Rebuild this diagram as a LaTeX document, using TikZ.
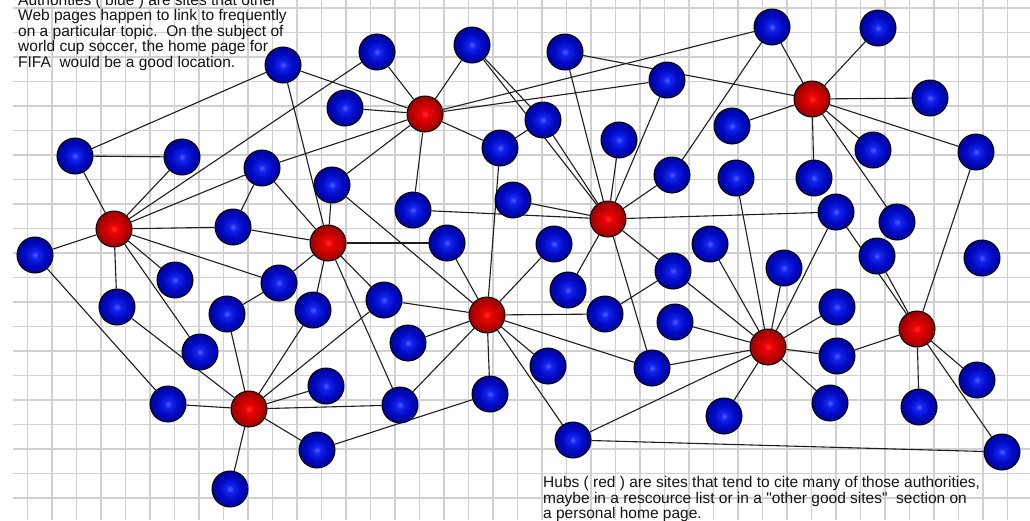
\documentclass[tikz,border=0pt]{standalone}
\usepackage{fontspec}
\newfontfamily\lbl{Liberation Sans}
\definecolor{bcen}{RGB}{80,100,255}
\definecolor{bmid}{RGB}{20,35,240}
\definecolor{bmid2}{RGB}{0,10,195}
\definecolor{bdark}{RGB}{0,0,130}
\definecolor{bdark2}{RGB}{0,0,80}
\definecolor{bedge}{RGB}{0,0,40}
\definecolor{rcen}{RGB}{255,50,50}
\definecolor{rmid}{RGB}{240,5,5}
\definecolor{rmid2}{RGB}{195,0,0}
\definecolor{rdark}{RGB}{130,0,0}
\definecolor{rdark2}{RGB}{80,0,0}
\definecolor{redge}{RGB}{40,0,0}
\definecolor{gridc}{RGB}{208,208,208}
\definecolor{edgec}{RGB}{30,30,30}
\definecolor{txtc}{RGB}{20,20,20}
\pgfdeclareradialshading{bluesph}{\pgfpoint{0bp}{0bp}}{color(0bp)=(bcen); color(5bp)=(bmid); color(15bp)=(bmid2); color(30bp)=(bdark); color(42bp)=(bdark2); color(50bp)=(bedge)}
\pgfdeclareradialshading{redsph}{\pgfpoint{0bp}{0bp}}{color(0bp)=(rcen); color(5bp)=(rmid); color(15bp)=(rmid2); color(30bp)=(rdark); color(42bp)=(rdark2); color(50bp)=(redge)}
\pgfdeclarelayer{gridlayer}
\pgfdeclarelayer{edgelayer}
\pgfsetlayers{gridlayer,edgelayer,main}
\begin{document}
\begin{tikzpicture}[x=1pt,y=-1pt,
  ball/.style={circle,minimum size=36pt,inner sep=0pt,draw=black,line width=1pt,shade},
  auth/.style={ball,shading=bluesph},
  hub/.style={ball,shading=redsph},
  link/.style={draw=edgec,line width=1.1pt},
  gridline/.style={draw=gridc,line width=1.4pt},
  txt/.style={anchor=base west,inner sep=0pt,text=txtc,font=\lbl\fontsize{15.5}{15.5}\selectfont}]
\useasboundingbox (0,0) rectangle (1030,520);
\begin{pgfonlayer}{gridlayer}
\fill[white] (0,0) rectangle (1030,520);
\foreach \k in {0,...,40} \draw[gridline] ({27.3+24.5*\k},0) -- ({27.3+24.5*\k},520);
\foreach \k in {0,...,20} \draw[gridline] (13,{8+24.5*\k}) -- (1030,{8+24.5*\k});
\end{pgfonlayer}
% texts
\node[txt] (ta1) at (18,5) {Authorities ( blue ) are sites that other};
\node[txt] (ta2) at (18,20.5) {Web pages happen to link to frequently};
\node[txt] (ta3) at (18,36) {on a particular topic.\ \ On the subject of};
\node[txt] (ta4) at (18,51.5) {world cup soccer, the home page for};
\node[txt] (ta5) at (18,67) {FIFA\ \ would be a good location.};
\node[txt] (tb1) at (543,487.5) {Hubs ( red ) are sites that tend to cite many of those authorities,};
\node[txt] (tb2) at (543,503) {maybe in a rescource list or in a "other good sites"\ \ section on};
\node[txt] (tb3) at (543,518.5) {a personal home page.};
% hubs
\node[hub] (h1) at (114,229) {};
\node[hub] (h2) at (328,243) {};
\node[hub] (h3) at (425,114) {};
\node[hub] (h4) at (608,219) {};
\node[hub] (h5) at (487,315) {};
\node[hub] (h6) at (249,409) {};
\node[hub] (h7) at (768,347) {};
\node[hub] (h8) at (812,99) {};
\node[hub] (h9) at (917,329) {};
% authorities
\node[auth] (b1) at (283,65) {};
\node[auth] (b2) at (377,52) {};
\node[auth] (b3) at (472,45) {};
\node[auth] (b4) at (565,52) {};
\node[auth] (b5) at (772,27) {};
\node[auth] (b6) at (878,28) {};
\node[auth] (b7) at (345,108) {};
\node[auth] (b8) at (667,80) {};
\node[auth] (b9) at (930,98) {};
\node[auth] (b10) at (75,156) {};
\node[auth] (b11) at (182,157) {};
\node[auth] (b12) at (262,168) {};
\node[auth] (b13) at (332,185) {};
\node[auth] (b14) at (500,148) {};
\node[auth] (b15) at (543,120) {};
\node[auth] (b16) at (619,140) {};
\node[auth] (b17) at (732,126) {};
\node[auth] (b18) at (873,150) {};
\node[auth] (b19) at (976,152) {};
\node[auth] (b20) at (413,210) {};
\node[auth] (b21) at (513,200) {};
\node[auth] (b22) at (672,175) {};
\node[auth] (b23) at (736,178) {};
\node[auth] (b24) at (814,178) {};
\node[auth] (b25) at (836,212) {};
\node[auth] (b26) at (897,222) {};
\node[auth] (b27) at (35,255) {};
\node[auth] (b28) at (233,227) {};
\node[auth] (b29) at (447,243) {};
\node[auth] (b30) at (554,244) {};
\node[auth] (b31) at (710,244) {};
\node[auth] (b32) at (877,256) {};
\node[auth] (b33) at (982,258) {};
\node[auth] (b34) at (175,280) {};
\node[auth] (b35) at (279,283) {};
\node[auth] (b36) at (117,307) {};
\node[auth] (b37) at (227,314) {};
\node[auth] (b38) at (313,310) {};
\node[auth] (b39) at (384,300) {};
\node[auth] (b40) at (568,290) {};
\node[auth] (b41) at (673,271) {};
\node[auth] (b42) at (784,268) {};
\node[auth] (b43) at (605,314) {};
\node[auth] (b44) at (837,307) {};
\node[auth] (b45) at (200,352) {};
\node[auth] (b46) at (408,343) {};
\node[auth] (b47) at (675,322) {};
\node[auth] (b48) at (837,356) {};
\node[auth] (b49) at (548,366) {};
\node[auth] (b50) at (652,368) {};
\node[auth] (b51) at (326,386) {};
\node[auth] (b52) at (490,394) {};
\node[auth] (b53) at (977,380) {};
\node[auth] (b54) at (168,404) {};
\node[auth] (b55) at (400,405) {};
\node[auth] (b56) at (724,416) {};
\node[auth] (b57) at (830,403) {};
\node[auth] (b58) at (919,407) {};
\node[auth] (b59) at (317,450) {};
\node[auth] (b60) at (573,440) {};
\node[auth] (b61) at (1002,452) {};
\node[auth] (b62) at (230,489) {};
% links
\begin{pgfonlayer}{edgelayer}
\foreach \a/\b in {h1/b10,h1/b11,h1/b2,h1/b12,h1/b28,h1/b27,h1/b36,h1/b34,h1/b45,h1/b35,
  b1/b10,b1/h3,b1/h2,b10/b11,
  h3/b2,h3/b3,h3/b7,h3/b12,h3/b13,h3/b14,h3/b20,h3/b5,h3/b8,
  b3/h4,b3/b15,b14/b15,b14/h5,b15/h4,
  b4/h4,b4/h8,b8/h4,
  h4/b16,h4/b22,h4/b20,h4/b21,h4/b25,h4/b41,h4/b40,h4/b50,
  b5/b22,b5/h8,
  h8/b6,h8/b9,h8/b17,h8/b18,h8/b19,h8/b24,h8/b26,
  b19/h9,b25/h9,b25/h7,
  h2/b12,h2/b13,h2/b28,h2/b29,h2/b35,h2/b38,h2/b39,h2/b55,
  b12/b28,b13/h5,b29/h5,b35/b37,
  h5/b39,h5/b46,h5/b52,h5/b49,h5/b60,h5/b50,h5/b43,h5/b30,h5/b55,
  b41/b43,b39/h6,
  h6/b36,h6/b54,h6/b37,h6/b38,h6/b51,h6/b55,h6/b59,h6/b62,
  b27/b54,b59/b52,
  h7/b23,h7/b31,h7/b41,h7/b42,h7/b44,h7/b48,h7/b57,h7/b56,h7/b60,h7/b50,h7/b47,
  h9/b32,h9/b48,h9/b58,h9/b53,h9/b61,
  b60/b61}
  \draw[link] (\a) -- (\b);
\end{pgfonlayer}
\end{tikzpicture}
\end{document}
